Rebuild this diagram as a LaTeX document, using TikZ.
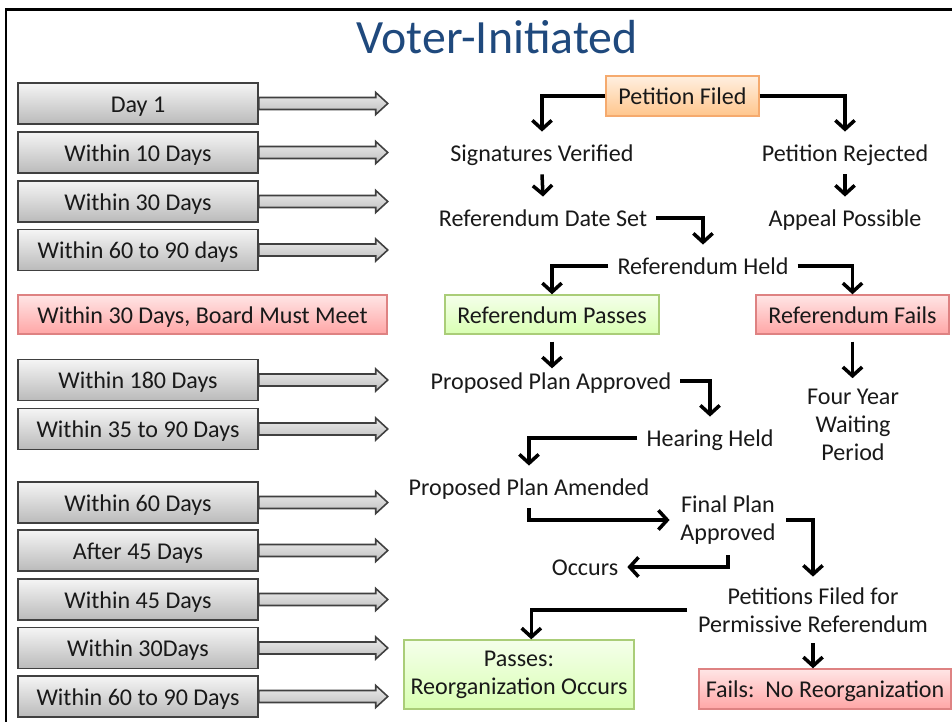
\documentclass[tikz,border=0pt]{standalone}
\usepackage{fontspec}
\setmainfont{Carlito}
\usetikzlibrary{arrows.meta, calc}
\definecolor{titleblue}{RGB}{31,73,125}
\definecolor{boxline}{RGB}{64,64,64}
\definecolor{redline}{RGB}{222,130,130}
\definecolor{greenline}{RGB}{170,205,120}
\definecolor{orangeline}{RGB}{245,170,110}
\newcommand{\timearrow}[1]{%
  \draw[blockarrow] (#1.east) ++(0,-6) -- ++(117,0) -- ++(0,-5) -- ++(12,11)
    -- ++(-12,11) -- ++(0,-5) -- ++(-117,0) -- cycle;}

\begin{document}
\begin{tikzpicture}[x=0.02cm, y=-0.02cm,
    every node/.style={font=\fontsize{13.7}{16}\selectfont, text=black!90},
    oneline/.style={text height=12pt, text depth=2pt},
    daybox/.style={draw=boxline, line width=0.9pt, top color=black!4, bottom color=black!27,
      minimum width=4.8cm, minimum height=0.82cm, inner sep=0pt, oneline},
    blockarrow/.style={draw=boxline, line width=0.9pt, top color=black!8, bottom color=black!25},
    redbox/.style={draw=redline, line width=0.8pt, top color=red!10, bottom color=red!35,
      minimum height=0.78cm, inner sep=0pt, oneline},
    greenbox/.style={draw=greenline, line width=0.8pt, top color=green!50!yellow!8, bottom color=green!50!yellow!30,
      minimum height=0.78cm, inner sep=0pt, align=center},
    orangebox/.style={draw=orangeline, line width=0.8pt, top color=orange!12, bottom color=orange!45,
      minimum width=3.06cm, minimum height=0.8cm, inner sep=0pt, oneline},
    stage/.style={inner sep=5pt, oneline},
    stagelines/.style={inner sep=6pt, align=center},
    flowarrow/.style={line width=2pt, -{Straight Barb[length=5pt, width=11pt]}}]
    \useasboundingbox (0,0) rectangle (952,722);
    \fill[white] (0,0) rectangle (952,722);
    % Frame
    \draw[line width=1.4pt] (6,722) -- (6,9.5) -- (952,9.5);

    % Title
    \node[font=\fontsize{27.2}{30}\selectfont, text=titleblue] (title) at (497,37) {Voter-Initiated};

    % Time line
    \node[daybox] (d1) at (138,103.5) {Day 1};
    \node[daybox] (d10) at (138,152.5) {Within 10 Days};
    \node[daybox] (d30) at (138,201.5) {Within 30 Days};
    \node[daybox] (d6090) at (138,250) {Within 60 to 90 days};
    \node[redbox, minimum width=7.38cm] (board) at (202.5,314.5) {Within 30 Days, Board Must Meet};
    \node[daybox] (d180) at (138,380) {Within 180 Days};
    \node[daybox] (d3590) at (138,429) {Within 35 to 90 Days};
    \node[daybox] (d60) at (138,502.5) {Within 60 Days};
    \node[daybox] (a45) at (138,550.5) {After 45 Days};
    \node[daybox] (d45) at (138,599.5) {Within 45 Days};
    \node[daybox] (d30b) at (138,648) {Within 30Days};
    \node[daybox] (d6090b) at (138,696.5) {Within 60 to 90 Days};
    \timearrow{d1}
    \timearrow{d10}
    \timearrow{d30}
    \timearrow{d6090}
    \timearrow{d180}
    \timearrow{d3590}
    \timearrow{d60}
    \timearrow{a45}
    \timearrow{d45}
    \timearrow{d30b}
    \timearrow{d6090b}

    % Steps
    \node[orangebox] (filed) at (682.5,96) {Petition Filed};
    \node[stage] (verified) at (542,153) {Signatures Verified};
    \node[stage] (rejected) at (845,153) {Petition Rejected};
    \node[stage] (dateset) at (543,218) {Referendum Date Set};
    \node[stage] (appeal) at (845,218) {Appeal Possible};
    \node[stage] (held) at (703,266) {Referendum Held};
    \node[greenbox, oneline, minimum width=4.28cm] (passes) at (552,314.5) {Referendum Passes};
    \node[redbox, minimum width=3.86cm] (fails) at (852.5,314.5) {Referendum Fails};
    \node[stage] (approved) at (551,381) {Proposed Plan Approved};
    \node[stage] (hearing) at (710,438) {Hearing Held};
    \node[stagelines] (waiting) at (853,425) {Four Year\\Waiting\\Period};
    \node[stage] (amended) at (529,487) {Proposed Plan Amended};
    \node[stagelines] (final) at (728,520) {Final Plan\\Approved};
    \node[stage] (occurs) at (585,567) {Occurs};
    \node[stagelines] (permissive) at (813,610) {Petitions Filed for\\Permissive Referendum};
    \node[greenbox, minimum width=4.6cm, minimum height=1.38cm] (reorg) at (519,674.5) {Passes:\\Reorganization Occurs};
    \node[redbox, minimum width=5.04cm, minimum height=0.8cm] (noreorg) at (825,689) {Fails:\ \ No Reorganization};

    % Flow
    \draw[flowarrow] (filed.west) -| (verified.north);
    \draw[flowarrow] (filed.east) -| (rejected.north);
    \draw[flowarrow] (verified.south) -- (dateset.north);
    \draw[flowarrow] (rejected.south) -- (appeal.north);
    \draw[flowarrow] (dateset.east) -| (held.north);
    \draw[flowarrow] (held.west) -| (passes.north);
    \draw[flowarrow] (held.east) -| (fails.north);
    \draw[flowarrow, shorten <=4pt, shorten >=-5pt] (passes.south) -- (passes.south |- approved.north);
    \draw[flowarrow, shorten <=4pt] (fails.south) -- (fails.south |- waiting.north);
    \draw[flowarrow] (approved.east) -| (hearing.north);
    \draw[flowarrow] (hearing.west) -| (amended.north);
    \draw[flowarrow] (amended.south) |- (final.west);
    \draw[flowarrow] (final.south) |- (occurs.east);
    \draw[flowarrow] (final.east) -| (permissive.north);
    \draw[flowarrow] (permissive.west) -| ([xshift=7pt]reorg.north);
    \draw[flowarrow] (permissive.south) -- (permissive.south |- noreorg.north);
\end{tikzpicture}
\end{document}
